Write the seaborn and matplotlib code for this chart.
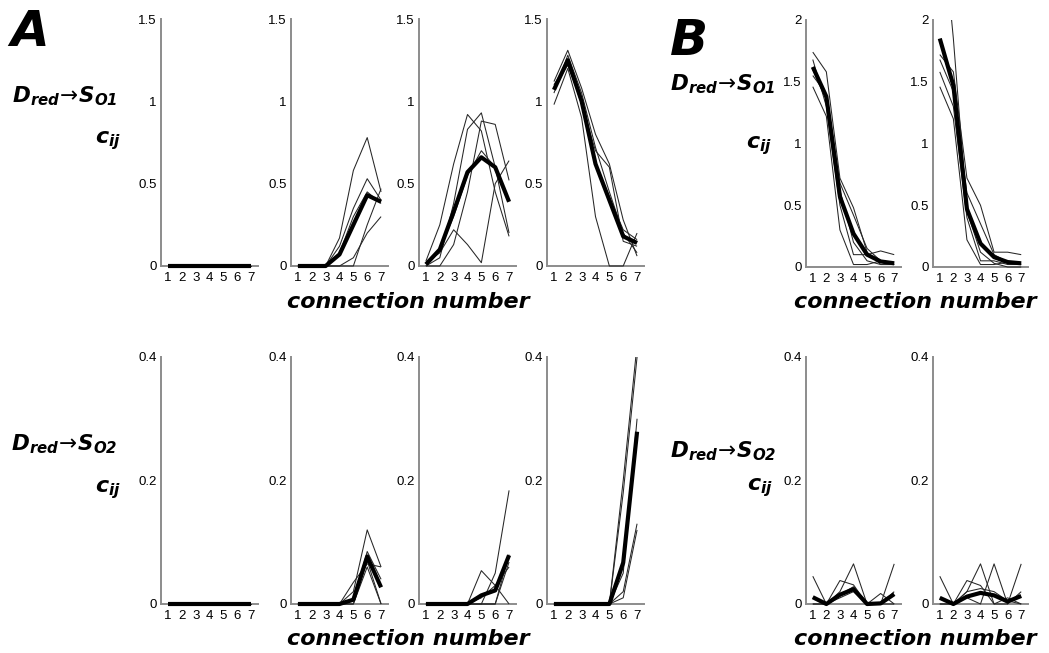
import numpy as np
import pandas as pd
import matplotlib
matplotlib.use("Agg")
import matplotlib.pyplot as plt
import seaborn as sns
from matplotlib.patches import Rectangle

sns.set_style("white")
plt.rcParams['font.family'] = ['Liberation Sans', 'DejaVu Sans']
plt.rcParams['mathtext.fontset'] = 'dejavusans'
plt.rcParams['text.color'] = 'black'

# ---------------- data ----------------
conn = [1, 2, 3, 4, 5, 6, 7]

# Panel A, row 1 (D_red -> S_O1)
a1_top_thin = [[0, 0, 0, 0, 0, 0, 0]] * 5
a1_top_mean = [0, 0, 0, 0, 0, 0, 0]
a2_top_thin = [[0, 0, 0, 0.17, 0.58, 0.78, 0.45],
               [0, 0, 0, 0.12, 0.35, 0.53, 0.40],
               [0, 0, 0, 0.00, 0.05, 0.20, 0.30],
               [0, 0, 0, 0.00, 0.00, 0.25, 0.47],
               [0, 0, 0, 0.08, 0.30, 0.45, 0.38]]
a2_top_mean = [0, 0, 0, 0.07, 0.25, 0.43, 0.39]
a3_top_thin = [[0.03, 0.25, 0.62, 0.92, 0.82, 0.45, 0.18],
               [0.00, 0.05, 0.38, 0.83, 0.93, 0.60, 0.20],
               [0.02, 0.08, 0.22, 0.13, 0.02, 0.50, 0.64],
               [0.00, 0.00, 0.13, 0.45, 0.88, 0.86, 0.52],
               [0.00, 0.10, 0.30, 0.55, 0.70, 0.60, 0.40]]
a3_top_mean = [0.01, 0.10, 0.33, 0.57, 0.66, 0.60, 0.39]
a4_top_thin = [[1.12, 1.31, 1.08, 0.80, 0.62, 0.28, 0.06],
               [0.98, 1.20, 0.90, 0.30, 0.00, 0.00, 0.20],
               [1.05, 1.28, 1.05, 0.72, 0.45, 0.20, 0.08],
               [1.10, 1.24, 0.98, 0.70, 0.60, 0.15, 0.12],
               [1.08, 1.22, 1.00, 0.62, 0.42, 0.22, 0.16]]
a4_top_mean = [1.07, 1.25, 1.00, 0.62, 0.40, 0.18, 0.14]

# Panel A, row 2 (D_red -> S_O2)
a1_bot_thin = [[0, 0, 0, 0, 0, 0, 0]] * 5
a1_bot_mean = [0, 0, 0, 0, 0, 0, 0]
a2_bot_thin = [[0, 0, 0, 0, 0.020, 0.120, 0.060],
               [0, 0, 0, 0, 0.035, 0.065, 0.060],
               [0, 0, 0, 0, 0.000, 0.070, 0.000],
               [0, 0, 0, 0, 0.005, 0.085, 0.040],
               [0, 0, 0, 0, 0.000, 0.060, 0.000]]
a2_bot_mean = [0, 0, 0, 0, 0.007, 0.077, 0.027]
a3_bot_thin = [[0, 0, 0, 0, 0.054, 0.030, 0.000],
               [0, 0, 0, 0, 0.000, 0.050, 0.184],
               [0, 0, 0, 0, 0.000, 0.000, 0.080],
               [0, 0, 0, 0, 0.000, 0.000, 0.068],
               [0, 0, 0, 0, 0.010, 0.030, 0.060]]
a3_bot_mean = [0, 0, 0, 0, 0.014, 0.022, 0.079]
a4_bot_thin = [[0, 0, 0, 0, 0, 0.20, 0.42],
               [0, 0, 0, 0, 0, 0.18, 0.40],
               [0, 0, 0, 0, 0, 0.02, 0.13],
               [0, 0, 0, 0, 0, 0.01, 0.12],
               [0, 0, 0, 0, 0, 0.05, 0.30]]
a4_bot_mean = [0, 0, 0, 0, 0, 0.067, 0.279]

# Panel B, row 1
b1_top_thin = [[1.74, 1.58, 0.72, 0.48, 0.12, 0.02, 0.02],
               [1.46, 1.22, 0.30, 0.02, 0.02, 0.05, 0.02],
               [1.68, 1.30, 0.50, 0.10, 0.10, 0.13, 0.10],
               [1.60, 1.35, 0.62, 0.20, 0.05, 0.02, 0.02],
               [1.55, 1.40, 0.68, 0.42, 0.15, 0.05, 0.03]]
b1_top_mean = [1.62, 1.38, 0.57, 0.27, 0.10, 0.045, 0.03]
b2_top_thin = [[3.00, 1.85, 0.45, 0.12, 0.03, 0.00, 0.00],
               [1.72, 1.58, 0.72, 0.50, 0.12, 0.12, 0.10],
               [1.46, 1.20, 0.22, 0.02, 0.02, 0.04, 0.02],
               [1.58, 1.30, 0.40, 0.05, 0.05, 0.02, 0.02],
               [1.68, 1.42, 0.60, 0.35, 0.10, 0.04, 0.03]]
b2_top_mean = [1.85, 1.47, 0.47, 0.19, 0.08, 0.04, 0.03]

# Panel B, row 2
b1_bot_thin = [[0.045, 0.0, 0.020, 0.065, 0.0, 0.000, 0.065],
               [0.000, 0.0, 0.038, 0.031, 0.0, 0.017, 0.000],
               [0.010, 0.0, 0.010, 0.020, 0.0, 0.000, 0.020],
               [0.000, 0.0, 0.015, 0.028, 0.0, 0.000, 0.000]]
b1_bot_mean = [0.011, 0.0, 0.015, 0.024, 0.0, 0.001, 0.016]
b2_bot_thin = [[0.045, 0.0, 0.038, 0.030, 0.000, 0.000, 0.065],
               [0.000, 0.0, 0.020, 0.065, 0.000, 0.010, 0.000],
               [0.010, 0.0, 0.010, 0.000, 0.065, 0.000, 0.020],
               [0.000, 0.0, 0.020, 0.025, 0.020, 0.005, 0.000]]
b2_bot_mean = [0.010, 0.0, 0.012, 0.018, 0.014, 0.004, 0.013]

yt_a_top = [0, 0.5, 1, 1.5]
yt_b_top = [0, 0.5, 1, 1.5, 2]
yt_bot = [0, 0.2, 0.4]

# ---------------- figure ----------------
W, H = 1049, 653
fig = plt.figure(figsize=(W / 100, H / 100), dpi=100)


def px_axes(x0, y_zero, width, height):
    return fig.add_axes([x0 / W, 1 - y_zero / H, width / W, height / H])


def draw_panel(ax, thin, mean, ymax, yticks):
    clip = Rectangle((-0.06, -0.06), 1.12, 1.06, transform=ax.transAxes,
                     facecolor='none', edgecolor='none')
    ax.add_patch(clip)
    for vals in thin:
        df = pd.DataFrame({'x': conn, 'y': vals})
        sns.lineplot(data=df, x='x', y='y', ax=ax, color='#262626', lw=0.75,
                     estimator=None, sort=False, zorder=3)
    df = pd.DataFrame({'x': conn, 'y': mean})
    sns.lineplot(data=df, x='x', y='y', ax=ax, color='black', lw=3.0,
                 estimator=None, sort=False, zorder=4)
    for ln in ax.get_lines():
        ln.set_clip_path(clip)
        ln.set_solid_capstyle('butt')
    ax.set_xlim(0.5, 7.5)
    ax.set_ylim(0, ymax)
    ax.set_xticks(conn)
    ax.set_xticklabels([str(c) for c in conn])
    ax.set_yticks(yticks)
    ax.set_yticklabels([('%g' % t) for t in yticks])
    ax.set_xlabel('')
    ax.set_ylabel('')
    for s in ['top', 'right']:
        ax.spines[s].set_visible(False)
    for s in ['left', 'bottom']:
        ax.spines[s].set_color('#8c8c8c')
        ax.spines[s].set_linewidth(1.4)
        ax.spines[s].set_zorder(2)
    ax.tick_params(axis='both', direction='in', length=3, width=0.8,
                   color='#555555', labelsize=9.5, labelcolor='black', pad=3)
    ax.tick_params(axis='x', pad=4)
    ax.set_facecolor('none')


a_lefts = [161, 291, 419, 547]
a_top = [(a1_top_thin, a1_top_mean), (a2_top_thin, a2_top_mean),
         (a3_top_thin, a3_top_mean), (a4_top_thin, a4_top_mean)]
a_bot = [(a1_bot_thin, a1_bot_mean), (a2_bot_thin, a2_bot_mean),
         (a3_bot_thin, a3_bot_mean), (a4_bot_thin, a4_bot_mean)]
for x0, (th, mn) in zip(a_lefts, a_top):
    ax = px_axes(x0, 266, 97, 247)
    draw_panel(ax, th, mn, 1.5, yt_a_top)
for x0, (th, mn) in zip(a_lefts, a_bot):
    ax = px_axes(x0, 604, 97, 247)
    draw_panel(ax, th, mn, 0.4, yt_bot)

b_lefts = [806, 933]
b_top = [(b1_top_thin, b1_top_mean), (b2_top_thin, b2_top_mean)]
b_bot = [(b1_bot_thin, b1_bot_mean), (b2_bot_thin, b2_bot_mean)]
for x0, (th, mn) in zip(b_lefts, b_top):
    ax = px_axes(x0, 267, 95, 247)
    draw_panel(ax, th, mn, 2.0, yt_b_top)
for x0, (th, mn) in zip(b_lefts, b_bot):
    ax = px_axes(x0, 604, 95, 247)
    draw_panel(ax, th, mn, 0.4, yt_bot)

# ---------------- text ----------------
bfit = dict(family='DejaVu Sans', weight='bold', style='italic', color='black')


def ftext(x, y, s, **kw):
    fig.text(x / W, 1 - y / H, s, **kw)


ftext(10, 46, 'A', fontsize=36, **bfit, va='baseline', ha='left')
ftext(670, 55, 'B', fontsize=36, **bfit, va='baseline', ha='left')

lab1 = r'$\mathbfit{D}_{\mathbfit{red}}\!\rightarrow\!\mathbfit{S}_{\mathbfit{O1}}$'
lab2 = r'$\mathbfit{D}_{\mathbfit{red}}\!\rightarrow\!\mathbfit{S}_{\mathbfit{O2}}$'
cij = r'$\mathbfit{c}_{\mathbfit{ij}}$'

lk = dict(fontsize=15.5, ha='right', va='baseline', color='black')
ck = dict(fontsize=16, ha='right', va='baseline', color='black')
ftext(118, 102, lab1, **lk)
ftext(121, 143, cij, **ck)
ftext(118, 450, lab2, **lk)
ftext(121, 492, cij, **ck)
ftext(776, 90, lab1, **lk)
ftext(772, 148, cij, **ck)
ftext(777, 457, lab2, **lk)
ftext(773, 490, cij, **ck)

ftext(408, 308, 'connection number', fontsize=16, **bfit, ha='center', va='baseline')
ftext(915, 308, 'connection number', fontsize=16, **bfit, ha='center', va='baseline')
ftext(408, 645, 'connection number', fontsize=16, **bfit, ha='center', va='baseline')
ftext(915, 645, 'connection number', fontsize=16, **bfit, ha='center', va='baseline')

fig.savefig('out.png', dpi=100, facecolor='white')
